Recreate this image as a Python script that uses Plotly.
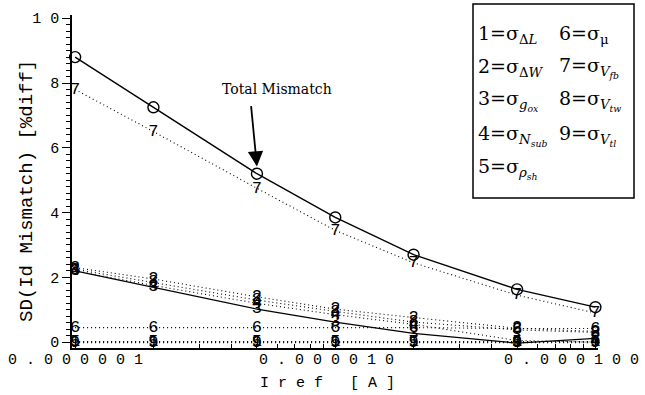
import numpy as np
import plotly.graph_objects as go

# ---- data ----
iref = [1e-6, 2e-6, 5e-6, 1e-5, 2e-5, 5e-5, 1e-4]
total = [8.8, 7.25, 5.2, 3.85, 2.7, 1.63, 1.08]
s1 = [0.02, 0.02, 0.02, 0.02, 0.02, 0.02, 0.02]
s2 = [2.3, 1.95, 1.4, 1.02, 0.76, 0.43, 0.33]
s3 = [2.2, 1.7, 1.02, 0.62, 0.27, -0.03, 0.12]
s4 = [2.2, 1.75, 1.2, 0.85, 0.55, 0.05, 0.0]
s5 = [0.0, 0.0, 0.0, 0.0, 0.0, 0.0, 0.0]
s6 = [0.45, 0.45, 0.45, 0.45, 0.45, 0.42, 0.42]
s7 = [7.8, 6.5, 4.75, 3.45, 2.45, 1.45, 0.9]
s8 = [2.25, 1.85, 1.3, 0.95, 0.62, 0.38, 0.3]
s9 = [-0.02, -0.02, -0.02, -0.02, -0.02, -0.02, -0.02]

x_tickvals = [1e-6, 1e-5, 1e-4]
x_ticktext = ["0 . 0 0 0 0 0 1", "0 . 0 0 0 0 1 0", "0 . 0 0 0 1 0 0"]
x_label_shift = [0, -9, -24]
y_tickvals = [0, 2, 4, 6, 8, 10]
y_ticktext = ["0", "2", "4", "6", "8", "1 0"]

legend_col1 = ["1=σ<sub>Δ<i>L</i></sub>", "2=σ<sub>Δ<i>W</i></sub>", "3=σ<sub><i>g<sub>ox</sub></i></sub>",
               "4=σ<sub><i>N<sub>sub</sub></i></sub>", "5=σ<sub><i>ρ<sub>sh</sub></i></sub>"]
legend_col2 = ["6=σ<sub>μ</sub>", "7=σ<sub><i>V<sub>fb</sub></i></sub>", "8=σ<sub><i>V<sub>tw</sub></i></sub>",
               "9=σ<sub><i>V<sub>tl</sub></i></sub>"]

MONO = "Liberation Mono"
SERIF = "DejaVu Serif"
DOT = "1px,3px"

fig = go.Figure()

def digit_trace(y, label, dash=DOT, width=1.1):
    fig.add_trace(go.Scatter(
        x=iref, y=y, mode="lines+text", text=[label] * len(iref),
        textposition="middle center",
        textfont=dict(family=MONO, size=17, color="black"),
        line=dict(color="black", width=width, dash=dash),
        showlegend=False, cliponaxis=False))

digit_trace(s9, "9")
digit_trace(s5, "5")
digit_trace(s1, "1")
digit_trace(s6, "6")
digit_trace(s4, "4")
digit_trace(s8, "8")
digit_trace(s2, "2")
digit_trace(s3, "3", dash="solid", width=1.2)
digit_trace(s7, "7")

fig.add_trace(go.Scatter(
    x=iref, y=total, mode="lines+markers",
    marker=dict(symbol="circle-open", size=11, color="black", line=dict(width=1.4)),
    line=dict(color="black", width=1.4), showlegend=False, cliponaxis=False))

# Total mismatch annotation
fig.add_annotation(x=np.log10(5e-6), y=5.42, ax=-6, ay=-62, text="",
                   showarrow=True, arrowhead=2, arrowsize=1.7, arrowwidth=1.8,
                   arrowcolor="black", xref="x", yref="y")
fig.add_annotation(x=np.log10(5e-6), y=5.42, xshift=20, yshift=78, text="Total Mismatch",
                   showarrow=False,
                   font=dict(family=SERIF, size=14, color="black"), xref="x", yref="y")

# geometry helpers (pixel -> paper)
L, R, T, B = 72, 598, 15, 348
W, H = R - L, B - T
def px(xp):
    return (xp - L) / W
def py(yp):
    return 1 - (yp - T) / H

# legend box
fig.add_shape(type="rect", xref="paper", yref="paper",
              x0=px(473), x1=px(634), y0=py(198), y1=py(4),
              line=dict(color="black", width=1.5), fillcolor="white", layer="above")
rows = [34, 68, 101, 135, 168]
for i, t in enumerate(legend_col1):
    fig.add_annotation(x=px(476), y=py(rows[i]), xref="paper", yref="paper", text=t,
                       xanchor="left", yanchor="middle", showarrow=False,
                       font=dict(family=SERIF, size=19, color="black"))
for i, t in enumerate(legend_col2):
    fig.add_annotation(x=px(557), y=py(rows[i]), xref="paper", yref="paper", text=t,
                       xanchor="left", yanchor="middle", showarrow=False,
                       font=dict(family=SERIF, size=19, color="black"))

# x tick labels (letter-spaced, as in the reference)
for v, t, s in zip(x_tickvals, x_ticktext, x_label_shift):
    fig.add_annotation(x=np.log10(v), y=py(360), xref="x", yref="paper", text=t,
                       xanchor="center", yanchor="middle", xshift=s, showarrow=False,
                       font=dict(family=MONO, size=15, color="black"))
# axis titles
fig.add_annotation(x=px(327), y=py(383), xref="paper", yref="paper", text="I r e f   [ A ]",
                   xanchor="center", yanchor="middle", showarrow=False,
                   font=dict(family=MONO, size=15, color="black"))
fig.add_annotation(x=px(27), y=py(191), xref="paper", yref="paper",
                   text="SD(Id Mismatch) [%diff]", textangle=-90,
                   xanchor="center", yanchor="middle", showarrow=False,
                   font=dict(family=MONO, size=19, color="black"))

x_minor = [m * 10.0 ** e for e in (-6, -5) for m in range(2, 10)]
y_minor = [v for v in np.round(np.arange(0, 10.01, 0.2), 2) if v % 2 != 0]

fig.update_xaxes(type="log", range=[-6.012, -3.99], showline=True, linecolor="black",
                 linewidth=1.5, showgrid=False, zeroline=False, automargin=False,
                 tickmode="array", tickvals=x_tickvals, showticklabels=False,
                 ticks="inside", ticklen=8, tickcolor="black", tickwidth=1,
                 minor=dict(tickmode="array", tickvals=x_minor, ticks="inside",
                            ticklen=4, tickcolor="black", showgrid=False))
fig.update_yaxes(range=[-0.18, 10.1], showline=True, linecolor="black", linewidth=1.5,
                 showgrid=False, zeroline=False, automargin=False,
                 tickmode="array", tickvals=y_tickvals, ticktext=y_ticktext,
                 ticks="outside", ticklen=8, tickcolor="black", tickwidth=1,
                 tickfont=dict(family=MONO, size=15, color="black"),
                 minor=dict(tickmode="array", tickvals=y_minor, ticks="outside",
                            ticklen=4, tickcolor="black", showgrid=False))

fig.update_layout(width=645, height=395, margin=dict(l=L, r=645 - R, t=T, b=395 - B),
                  plot_bgcolor="white", paper_bgcolor="white", showlegend=False)

fig.write_html("out.html", config={"displayModeBar": False},
               post_script="document.body.style.margin='0px';")
